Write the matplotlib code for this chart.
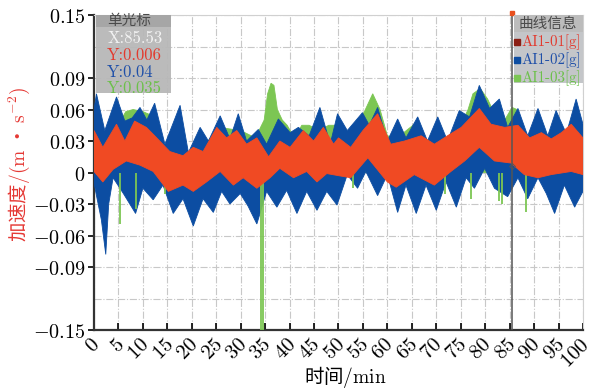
import numpy as np
import matplotlib
matplotlib.use('Agg')
import matplotlib.pyplot as plt
from matplotlib.patches import Rectangle
from matplotlib.transforms import ScaledTranslation

plt.rcParams['mathtext.fontset'] = 'cm'
plt.rcParams['font.family'] = ['Noto Sans CJK SC', 'DejaVu Sans']

# --- envelopes (time in min, acceleration) ---
# AI1-02 (blue)
blue_up_t = [0, 0.5, 2.2, 4.6, 6.3, 7.8, 9.4, 10.8, 12.4, 14.5, 17.6, 19.3, 21.7, 23.4, 25.8,
             27.8, 29.5, 31.2, 33.6, 35.3, 37.7, 40.1, 41.8, 44.0, 46.2, 48.3, 49.8, 51.8,
             54.9, 56.3, 58.0, 60.0, 62.1, 63.8, 66.2, 68.2, 70.3, 72.3, 74.7, 76.8, 78.8,
             80.9, 82.9, 84.6, 86.7, 88.7, 90.8, 92.8, 94.5, 96.6, 98.6, 100]
blue_up_v = [0.06, 0.075, 0.040, 0.072, 0.049, 0.052, 0.062, 0.050, 0.066, 0.027, 0.064, 0.019,
             0.043, 0.030, 0.054, 0.032, 0.056, 0.030, 0.041, 0.027, 0.051, 0.038, 0.043, 0.035,
             0.062, 0.027, 0.056, 0.040, 0.057, 0.045, 0.062, 0.030, 0.051, 0.033, 0.053, 0.030,
             0.053, 0.030, 0.059, 0.053, 0.083, 0.061, 0.070, 0.043, 0.061, 0.035, 0.061, 0.035,
             0.059, 0.037, 0.070, 0.046]
blue_lo_t = [0, 0.5, 1.5, 2.4, 3.0, 3.9, 6.0, 8.5, 10.0, 12.1, 14.1, 16.2, 18.2, 20.3, 22.3,
             24.4, 26.1, 27.8, 29.9, 31.5, 33.3, 35.3, 37.4, 39.4, 41.5, 43.5, 45.6, 47.6, 49.7,
             51.8, 53.9, 55.6, 58.0, 60.0, 62.1, 63.8, 65.9, 67.9, 70.0, 72.0, 74.1, 76.1, 77.8,
             79.9, 81.9, 84.6, 86.7, 88.7, 90.8, 92.5, 94.2, 96.2, 98.3, 100]
blue_lo_v = [-0.01, -0.022, -0.045, -0.078, -0.03, -0.005, -0.02, -0.039, -0.015, -0.026, -0.012,
             -0.039, -0.025, -0.051, -0.025, -0.038, -0.018, -0.030, -0.020, -0.032, -0.049,
             -0.018, -0.033, -0.017, -0.039, -0.018, -0.036, -0.018, -0.031, -0.002, -0.015,
             0.001, -0.022, -0.002, -0.038, -0.012, -0.039, -0.012, -0.036, -0.009, -0.033,
             -0.005, -0.015, 0.004, -0.015, -0.023, -0.005, -0.025, -0.005, -0.02, -0.039,
             -0.012, -0.033, -0.018]

# AI1-01 (red)
red_up_t = [0, 1.8, 4.6, 6.3, 8.3, 10.7, 12.4, 15.5, 18.2, 20.3, 22.3, 25.1, 27.1, 29.2, 31.2,
            33.3, 35.7, 38.0, 40.1, 42.8, 44.9, 46.9, 49.0, 50.0, 52.5, 55.0, 58.0, 60.7, 63.5,
            66.9, 69.6, 72.3, 75.1, 78.8, 81.2, 84.0, 86.7, 89.1, 91.5, 93.5, 95.6, 97.6, 100]
red_up_v = [0.040, 0.024, 0.046, 0.030, 0.049, 0.043, 0.035, 0.020, 0.016, 0.024, 0.020, 0.043,
            0.033, 0.040, 0.027, 0.033, 0.015, 0.030, 0.024, 0.040, 0.030, 0.043, 0.027, 0.033,
            0.024, 0.040, 0.056, 0.027, 0.030, 0.035, 0.027, 0.035, 0.043, 0.061, 0.046, 0.043,
            0.045, 0.033, 0.038, 0.032, 0.038, 0.046, 0.033]
red_lo_t = [0, 1.8, 3.9, 6.6, 9.4, 12.1, 15.2, 18.2, 20.3, 23.0, 25.8, 28.5, 30.5, 33.3, 36.0,
            38.0, 40.8, 43.5, 45.6, 47.6, 50.0, 52.5, 56.0, 60.0, 61.8, 65.5, 69.6, 73.0, 75.8,
            78.8, 81.9, 85.3, 88.0, 90.8, 93.5, 97.6, 100]
red_lo_v = [0.001, -0.009, 0.003, 0.011, 0.007, 0.001, -0.018, -0.012, -0.018, -0.009, 0.001,
            -0.012, -0.005, -0.015, -0.005, 0.004, -0.005, 0.001, -0.009, -0.001, -0.003,
            -0.005, 0.014, -0.009, -0.014, -0.002, -0.012, 0.001, 0.011, 0.024, 0.011, 0.009,
            -0.002, -0.005, -0.002, 0.001, -0.002]

# AI1-03 (green)
green_up_t = [0, 2, 4, 5.5, 6.5, 8, 10, 11.5, 12.5, 14, 16, 20, 25, 27, 30, 33, 34.8, 35.5,
              36.2, 36.8, 37.5, 38.5, 39.5, 41, 42.5, 44, 46, 48, 50, 52, 54, 55.5, 57, 58.5,
              60, 62, 65.5, 68, 72, 75, 76.5, 77.5, 79, 80.5, 82, 84, 85.5, 86.5, 88, 92, 95, 100]
green_up_v = [0.040, 0.033, 0.038, 0.050, 0.058, 0.060, 0.058, 0.055, 0.045, 0.022, 0.02,
              0.015, 0.038, 0.042, 0.040, 0.033, 0.050, 0.075, 0.085, 0.083, 0.060, 0.050,
              0.045, 0.033, 0.045, 0.045, 0.040, 0.045, 0.045, 0.030, 0.045, 0.060, 0.075,
              0.060, 0.035, 0.033, 0.046, 0.028, 0.033, 0.045, 0.060, 0.075, 0.080, 0.070,
              0.055, 0.050, 0.062, 0.060, 0.035, 0.030, 0.035, 0.030]
green_lo_t = [0, 100]
green_lo_v = [0.0, 0.0]
spike_t = [5.3, 8.5, 14.5, 34.1, 34.6, 52.9, 71.7, 77.1, 82.8, 83.4, 88.4]
spike_v = [-0.049, -0.035, -0.02, -0.15, -0.15, -0.015, -0.02, -0.025, -0.027, -0.03, -0.038]

# axis ticks
x_ticks = list(range(0, 101, 5))
y_ticks = [0.15, 0.09, 0.06, 0.03, 0, -0.03, -0.06, -0.09, -0.15]
y_labels = ['0.15', '0.09', '0.06', '0.03', '0', '-0.03', '-0.06', '-0.09', '-0.15']

# cursor readout
cursor_x = 85.53
cursor_vals = ['0.006', '0.04', '0.035']
series_names = ['AI1-01[g]', 'AI1-02[g]', 'AI1-03[g]']

RED = '#F04A23'
BLUE = '#0C4DA2'
GREEN = '#7CC653'

fig = plt.figure(figsize=(5.97, 3.9), dpi=100)
ax = fig.add_axes([0.1575, 0.1538, 0.819, 0.8077])


def band(tu, vu, tl, vl, color, z):
    xs = np.concatenate([tu, tl[::-1]])
    ys = np.concatenate([vu, vl[::-1]])
    ax.fill(xs, ys, color=color, lw=0.6, zorder=z)


band(green_up_t, green_up_v, green_lo_t, green_lo_v, GREEN, 2)
band(blue_up_t, blue_up_v, blue_lo_t, blue_lo_v, BLUE, 3)
ax.vlines(spike_t, 0, spike_v, color=GREEN, lw=1.3, zorder=3.5)
band(red_up_t, red_up_v, red_lo_t, red_lo_v, RED, 4)

# cursor line
ax.axvline(cursor_x, color='#555555', lw=1.1, zorder=6)
ax.plot([cursor_x], [0.152], marker='s', ms=3, color='#E8501E', clip_on=False, zorder=7)
ax.plot([cursor_x], [0.006], marker='D', ms=3, mfc='none', mec='#555555', mew=0.6, zorder=7)

ax.set_xlim(0, 100)
ax.set_ylim(-0.15, 0.15)
ax.set_xticks(x_ticks, labels=['$%d$' % v for v in x_ticks])
ax.set_yticks(y_ticks, labels=['$%s$' % s for s in y_labels])
ax.set_yticks([0.12, -0.12], minor=True)
ax.tick_params(axis='x', direction='in', length=5, width=1.2, labelsize=15, pad=8)
ax.tick_params(axis='y', direction='out', length=4, width=1.2, labelsize=14.5, pad=2)
ax.tick_params(axis='y', which='minor', length=0)
shift = ScaledTranslation(0.03, 0, fig.dpi_scale_trans)
for lab in ax.get_xticklabels():
    lab.set_rotation(45)
    lab.set_rotation_mode('anchor')
    lab.set_ha('right')
    lab.set_va('center')
    lab.set_transform(lab.get_transform() + shift)
ax.grid(True, which='both', ls='-.', color='#c8c8c8', lw=0.8)
ax.set_axisbelow(True)
for s in ['left', 'bottom']:
    ax.spines[s].set_color('#333333')
    ax.spines[s].set_linewidth(1.6)
for s in ['top', 'right']:
    ax.spines[s].set_color('#d0d0d0')
    ax.spines[s].set_linewidth(0.8)

# cursor info box (top-left)
ax.add_patch(Rectangle((0.004, 0.752), 0.153, 0.248, transform=ax.transAxes,
                       fc='#b8b8b8', ec='none', alpha=0.95, zorder=8))
ax.add_patch(Rectangle((0.004, 0.962), 0.153, 0.038, transform=ax.transAxes,
                       fc='#a6a6a6', ec='none', zorder=8))
ax.text(0.027, 0.981, '单光标', transform=ax.transAxes, fontsize=10.5, color='#4a4a4a',
        va='center', zorder=9)
box_lines = ['X:%s' % cursor_x] + ['Y:%s' % v for v in cursor_vals]
box_cols = ['#f2f2f2', '#E23A2E', '#1F4FA8', '#6CC04A']
for i, (txt, c) in enumerate(zip(box_lines, box_cols)):
    ax.text(0.027, 0.925 - i * 0.053, txt, transform=ax.transAxes, family='cmr10',
            fontsize=12, color=c, va='center', zorder=9)

# curve info box (top-right)
ax.add_patch(Rectangle((0.858, 0.784), 0.142, 0.216, transform=ax.transAxes,
                       fc='#c4c6c9', ec='none', zorder=8))
ax.add_patch(Rectangle((0.858, 0.946), 0.142, 0.054, transform=ax.transAxes,
                       fc='#bcbcbc', ec='none', zorder=8))
ax.text(0.929, 0.972, '曲线信息', transform=ax.transAxes, fontsize=10.5, color='#4a4a4a',
        ha='center', va='center', zorder=9)
leg_txt = ['#E23A2E', '#1F4FA8', '#6CC04A']
leg_sq = ['#8B1E14', '#0C4DA2', '#7CC653']
for i, name in enumerate(series_names):
    yy = 0.915 - i * 0.058
    ax.plot([0.865], [yy], marker='s', ms=4, color=leg_sq[i], transform=ax.transAxes,
            zorder=9, clip_on=False)
    ax.text(0.874, yy, name, transform=ax.transAxes, family='cmr10',
            fontsize=10.8, color=leg_txt[i], va='center', zorder=9, clip_on=False)

# axis titles
fig.text(0.578, 0.033, '时间' + r'$/\mathrm{min}$', fontsize=14, ha='center', va='center')
fig.text(0.032, 0.577, '加速度' + r'$/(\mathrm{m}$ • $\mathrm{s}^{-2})$', fontsize=14,
         color='#E53935', rotation=90, ha='center', va='center')

fig.savefig('out.png', dpi=100)
